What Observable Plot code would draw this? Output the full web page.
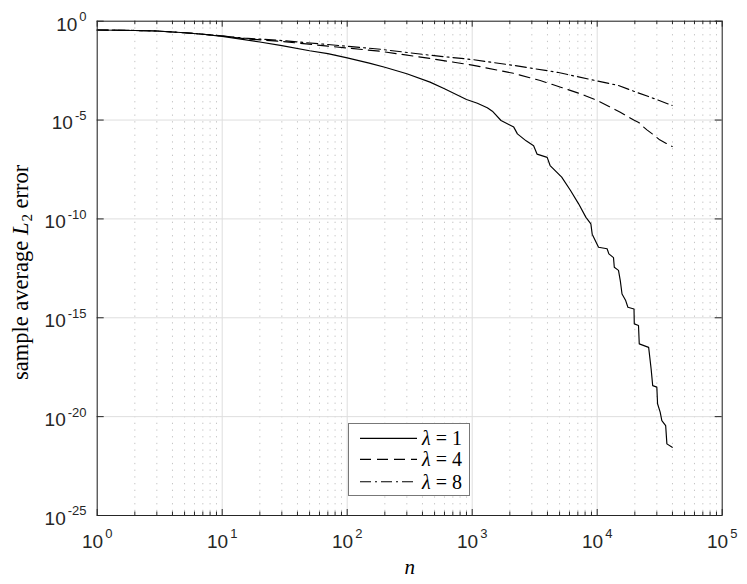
<!DOCTYPE html>
<html><head><meta charset="utf-8">
<script src="https://cdn.jsdelivr.net/npm/d3@7"></script>
<script src="https://cdn.jsdelivr.net/npm/@observablehq/plot@0.6"></script>
<style>
html,body{margin:0;padding:0;background:#fff;}
#chart{position:relative;width:747px;height:584px;}
#legend{position:absolute;left:348px;top:423px;width:122px;height:73px;background:#fff;border:1px solid #777;box-sizing:border-box;}
#legend svg{position:absolute;left:-1px;top:-1px;}
#legend text{font-family:"Liberation Serif","DejaVu Serif",serif;}
</style></head><body>
<div id="chart"><div id="legend"></div></div>
<script>
// ---- data ----
const nLambda1 = [1, 2, 3, 5, 7, 10, 20, 30, 50, 70, 100, 150, 200, 300, 460, 600, 900, 1100, 1320, 1450, 1700, 2150, 2300, 2700, 3100, 3300, 3980, 4200, 5200, 6100, 7100, 8130, 8900, 9120, 10250, 12000, 12400, 13500, 13700, 14800, 15300, 15800, 16900, 17600, 19700, 19800, 21400, 21700, 25800, 27000, 27800, 30000, 30400, 31900, 32900, 35300, 36100, 39800];
const errLambda1 = [3.6e-1, 3.4e-1, 3.2e-1, 2.6e-1, 2.2e-1, 1.7e-1, 8.9e-2, 5.8e-2, 3.2e-2, 2.3e-2, 1.4e-2, 7.6e-3, 4.7e-3, 2.2e-3, 8.3e-4, 3.8e-4, 1.1e-4, 7.1e-5, 4.2e-5, 2.8e-5, 9.5e-6, 4.4e-6, 2.0e-6, 8.9e-7, 5.0e-7, 1.9e-7, 1.3e-7, 5.0e-8, 1.3e-8, 2.8e-9, 5.8e-10, 1.2e-10, 5.6e-11, 1.7e-11, 3.7e-12, 3.1e-12, 1.7e-12, 1.1e-12, 3.6e-13, 2.5e-13, 7.6e-14, 1.6e-14, 7.4e-15, 3.4e-15, 2.8e-15, 4.9e-16, 4.1e-16, 4.8e-17, 3.2e-17, 2.6e-18, 3.7e-19, 3.1e-19, 4.5e-20, 1.7e-20, 6.3e-21, 3.5e-21, 4.2e-22, 2.8e-22];

const nLambda4 = [1, 2, 3, 5, 7, 10, 15, 30, 70, 185, 460, 1000, 2150, 3500, 5100, 7400, 10000, 15300, 19600, 21500, 22500, 25000, 27600, 31600, 39800];
const errLambda4 = [3.6e-1, 3.4e-1, 3.2e-1, 2.6e-1, 2.2e-1, 1.8e-1, 1.3e-1, 9.5e-2, 5.5e-2, 3.0e-2, 1.3e-2, 6.0e-3, 2.3e-3, 1.0e-3, 4.6e-4, 2.1e-4, 9.8e-5, 2.5e-5, 1.0e-5, 7.6e-6, 5.6e-6, 3.2e-6, 2.0e-6, 1.0e-6, 4.6e-7];

const nLambda8 = [1, 2, 3, 5, 7, 10, 15, 30, 70, 185, 460, 1000, 2150, 4800, 10000, 14800, 19800, 26500, 39800];
const errLambda8 = [3.6e-1, 3.4e-1, 3.2e-1, 2.6e-1, 2.2e-1, 1.8e-1, 1.4e-1, 1.05e-1, 6.6e-2, 3.8e-2, 1.9e-2, 1.15e-2, 5.8e-3, 2.6e-3, 9.5e-4, 5.6e-4, 2.8e-4, 1.45e-4, 5.5e-5];

const xMajorTicks = [1, 10, 100, 1000, 10000, 100000];
const xTickExponents = ["0", "1", "2", "3", "4", "5"];
const xMinorTicks = [2,3,4,5,6,7,8,9, 20,30,40,50,60,70,80,90, 200,300,400,500,600,700,800,900, 2000,3000,4000,5000,6000,7000,8000,9000, 20000,30000,40000,50000,60000,70000,80000,90000];
const yMajorTicks = [1e-25, 1e-20, 1e-15, 1e-10, 1e-5, 1];
const yTickExponents = ["-25", "-20", "-15", "-10", "-5", "0"];
const legendLambdas = ["1", "4", "8"];
const xLabel = "n";
const yLabel = "sample average L2 error";

// ---- layout ----
const W = 747, H = 584;
const mL = 96.7, mR = 25.3, mT = 20.7, mB = 69;
const plotW = W - mL - mR, plotH = H - mT - mB;
const axisColor = "#262626";
const serif = "'Liberation Serif', 'DejaVu Serif', serif";
const dashes = [null, "11,6", "11,4,2,4"];

const toRows = (ns, es) => ns.map((n, i) => ({n, e: es[i]}));
const series = [toRows(nLambda1, errLambda1), toRows(nLambda4, errLambda4), toRows(nLambda8, errLambda8)];

const xExp = new Map(xMajorTicks.map((v, i) => [v, xTickExponents[i]]));
const yExp = new Map(yMajorTicks.map((v, i) => [v, yTickExponents[i]]));

const svg = Plot.plot({
  width: W, height: H,
  marginLeft: mL, marginRight: mR, marginTop: mT, marginBottom: mB,
  x: {type: "log", domain: [1, 1e5]},
  y: {type: "log", domain: [1e-25, 1]},
  style: {fontFamily: "'Liberation Sans', Arial, Helvetica, sans-serif", background: "#fff", color: axisColor, overflow: "visible"},
  marks: [
    Plot.ruleX(xMinorTicks, {stroke: "#c4c4c4", strokeDasharray: "1.3,5.4"}),
    Plot.ruleX(xMajorTicks, {stroke: "#dedede"}),
    Plot.ruleY(yMajorTicks, {stroke: "#dedede"}),
    ...series.map((rows, k) => Plot.line(rows, {x: "n", y: "e", stroke: "#000", strokeWidth: 1.15, strokeDasharray: dashes[k]})),
    // inward ticks
    Plot.ruleX(xMajorTicks, {stroke: axisColor, insetTop: plotH - 6}),
    Plot.ruleX(xMajorTicks, {stroke: axisColor, insetBottom: plotH - 6}),
    Plot.ruleX(xMinorTicks, {stroke: axisColor, insetTop: plotH - 3.5}),
    Plot.ruleX(xMinorTicks, {stroke: axisColor, insetBottom: plotH - 3.5}),
    Plot.ruleY(yMajorTicks, {stroke: axisColor, insetRight: plotW - 7}),
    Plot.ruleY(yMajorTicks, {stroke: axisColor, insetLeft: plotW - 7}),
    Plot.frame({stroke: axisColor}),
    Plot.axisX({anchor: "bottom", ticks: xMajorTicks, tickSize: 0, tickPadding: 18.5, fontSize: 19, label: null, tickFormat: d => xExp.get(d)}),
    Plot.axisY({anchor: "left", ticks: yMajorTicks, tickSize: 0, tickPadding: 10.7, dy: 3.3, fontSize: 19, label: null, tickFormat: d => yExp.get(d)}),
    Plot.text([xLabel], {text: d => d, frameAnchor: "bottom", textAnchor: "middle", lineAnchor: "bottom", dy: 58, fontSize: 21, fontStyle: "italic", fontFamily: serif, fill: "#000"}),
    Plot.text([yLabel], {text: d => d, frameAnchor: "left", textAnchor: "middle", lineAnchor: "middle", rotate: -90, dx: -76.7, dy: 4, fontSize: 22.5, fontFamily: serif, fill: "#000"})
  ]
});

const NS = "http://www.w3.org/2000/svg";
function tspan(txt, attrs = {}) {
  const t = document.createElementNS(NS, "tspan");
  t.textContent = txt;
  for (const [k, v] of Object.entries(attrs)) t.setAttribute(k, v);
  return t;
}
// power-of-ten tick labels: "10" + superscript exponent
svg.querySelectorAll('g[aria-label="x-axis tick label"] text, g[aria-label="y-axis tick label"] text').forEach(t => {
  const exp = t.textContent;
  t.textContent = "";
  t.append(tspan("10"), tspan(exp, {dy: "-9.5", dx: "2", "font-size": "13"}));
});
// y label with italic L and subscript 2
svg.querySelectorAll("text").forEach(t => {
  if (t.textContent === yLabel) {
    t.textContent = "";
    t.append(tspan("sample average "), tspan("L", {"font-style": "italic"}), tspan("2", {"font-size": "15", dy: "4", dx: "1"}), tspan(" error", {dy: "-4"}));
  }
});

document.getElementById("chart").prepend(svg);

// legend (inside the axes, lower middle)
const lg = d3.select("#legend").append("svg").attr("width", 122).attr("height", 73);
const rowY = [15.3, 36.3, 58.7];
legendLambdas.forEach((lam, k) => {
  lg.append("line").attr("x1", 12).attr("x2", 69).attr("y1", rowY[k]).attr("y2", rowY[k])
    .attr("stroke", "#000").attr("stroke-width", 1.15).attr("stroke-dasharray", dashes[k]);
  const t = lg.append("text").attr("x", 74).attr("y", rowY[k]).attr("dy", "0.35em")
    .attr("font-size", 20).attr("fill", "#000");
  t.append("tspan").attr("font-style", "italic").text("λ");
  t.append("tspan").text(" = " + lam);
});
</script>
</body></html>
